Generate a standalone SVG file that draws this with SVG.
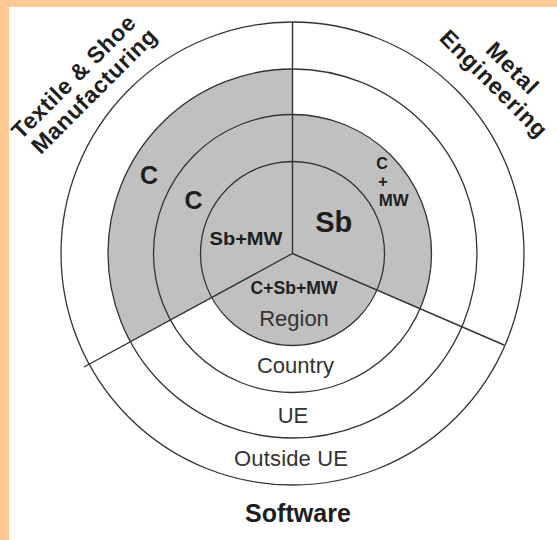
<svg xmlns="http://www.w3.org/2000/svg" width="557" height="540" viewBox="0 0 557 540">
  <style>
    .ring { fill: none; stroke: #333; stroke-width: 1.3; }
    .spoke { stroke: #333; stroke-width: 1.4; fill: none; }
    .shade { fill: #c0c0c0; stroke: none; }
    .b { font-family: "Liberation Sans", Arial, sans-serif; font-weight: bold; fill: #1e1e1e; text-anchor: middle; }
    .r { font-family: "Liberation Sans", Arial, sans-serif; fill: #333; text-anchor: middle; }
  </style>
  <rect x="0" y="0" width="557" height="540" fill="#ffca96"/>
  <rect x="9" y="7" width="548" height="533" fill="#ffffff"/>

  <g id="shading">
    <path class="shade" d="M292.5 253.5 L292.5 69 A184.5 184.5 0 0 0 130.4 341.5 Z"/>
    <path class="shade" d="M292.5 253.5 L292.5 114.5 A139 139 0 0 1 420.2 308.5 Z"/>
    <circle class="shade" cx="292.5" cy="253.5" r="92"/>
  </g>

  <g id="rings">
    <circle id="ring-outside-ue" class="ring" cx="292.5" cy="253.5" r="231.5"/>
    <circle id="ring-ue" class="ring" cx="292.5" cy="253.5" r="184.5"/>
    <circle id="ring-country" class="ring" cx="292.5" cy="253.5" r="139"/>
    <circle id="ring-region" class="ring" cx="292.5" cy="253.5" r="92"/>
  </g>

  <g id="connectors">
    <line class="spoke" x1="292.5" y1="22" x2="292.5" y2="253.5"/>
    <line class="spoke" x1="292.5" y1="253.5" x2="84" y2="367"/>
    <line class="spoke" x1="292.5" y1="253.5" x2="504" y2="345"/>
  </g>

  <g id="sector-textile">
    <text class="b" font-size="23" transform="translate(79 82.5) rotate(-45)" textLength="164" lengthAdjust="spacing">Textile &amp; Shoe</text>
    <text class="b" font-size="23" transform="translate(99.5 96.5) rotate(-45)" textLength="166" lengthAdjust="spacing">Manufacturing</text>
    <text class="b" font-size="25" x="149" y="184">C</text>
    <text class="b" font-size="25" x="193.5" y="209">C</text>
    <text class="b" font-size="19" x="246" y="245" textLength="73" lengthAdjust="spacingAndGlyphs">Sb+MW</text>
  </g>

  <g id="sector-metal">
    <text class="b" font-size="23" transform="translate(506.7 73.6) rotate(45)" textLength="63" lengthAdjust="spacing">Metal</text>
    <text class="b" font-size="23" transform="translate(488 89) rotate(45)" textLength="141" lengthAdjust="spacing">Engineering</text>
    <text class="b" font-size="29" x="333.7" y="232">Sb</text>
    <text class="b" font-size="16" x="382" y="169">C</text>
    <text class="b" font-size="16" x="383" y="187">+</text>
    <text class="b" font-size="16" x="393.7" y="205.7" textLength="30" lengthAdjust="spacingAndGlyphs">MW</text>
  </g>

  <g id="sector-software">
    <text class="b" font-size="18" x="294" y="293.5" textLength="87" lengthAdjust="spacingAndGlyphs">C+Sb+MW</text>
    <text class="r" font-size="22" x="294" y="326">Region</text>
    <text class="r" font-size="22" x="295.5" y="372.5">Country</text>
    <text class="r" font-size="22" x="293" y="422.5">UE</text>
    <text class="r" font-size="22" x="291" y="465.5" textLength="114" lengthAdjust="spacing">Outside UE</text>
    <text class="b" font-size="25" x="298" y="522" textLength="106" lengthAdjust="spacing">Software</text>
  </g>
</svg>
